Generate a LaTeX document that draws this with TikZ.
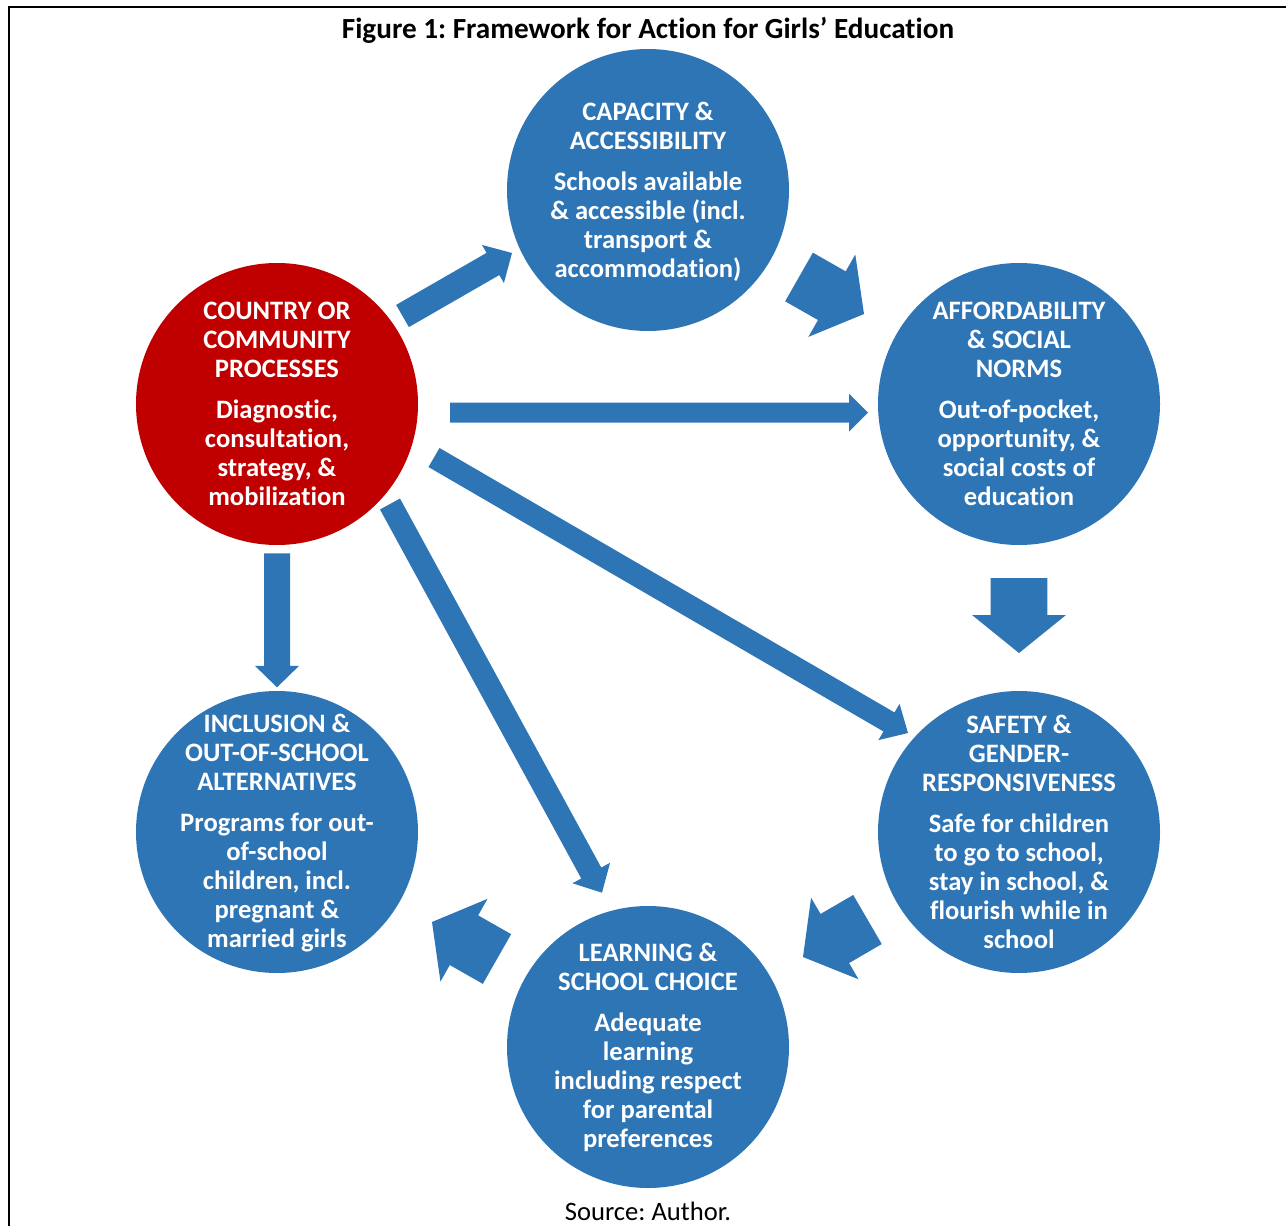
\documentclass[tikz,border=0pt]{standalone}
\usepackage{fontspec}
\setmainfont{Carlito}[Ligatures=NoCommon]
\frenchspacing
\usetikzlibrary{calc}
\definecolor{cblue}{RGB}{46,117,182}
\definecolor{cred}{RGB}{192,0,0}
\tikzset{
  bubble/.style={circle, fill=cblue, draw=none, minimum size=141pt, inner sep=0pt},
  redbubble/.style={bubble, fill=cred},
  btext/.style={text=white, align=center, inner sep=0pt,
    font=\bfseries\fontsize{13.3}{14.5}\selectfont},
  arrowfill/.style={fill=cblue},
}
% #1 start coord, #2 tip coord, #3 half shaft width, #4 half head width, #5 head length
\newcommand\blockarr[5]{%
  \coordinate (#1-base) at ($(#2)!#5!(#1)$);
  \fill[arrowfill] ($(#1)!#3!90:(#2)$) -- ($(#1-base)!#3!90:(#2)$)
    -- ($(#1-base)!#4!90:(#2)$) -- (#2) -- ($(#1-base)!#4!-90:(#2)$)
    -- ($(#1-base)!#3!-90:(#2)$) -- ($(#1)!#3!-90:(#2)$) -- cycle;
}
\begin{document}
\begin{tikzpicture}[x=0.5pt, y=-0.5pt]
\useasboundingbox (0,0) rectangle (1286,1226);
% frame
\draw[line width=1.3pt] (9,1226) -- (9,7) -- (1286,7);
% title
\node[font=\bfseries\fontsize{14.6}{17}\selectfont] (title) at (648,30)
  {Figure 1: Framework for Action for Girls’ Education};
\node[font=\fontsize{13.3}{16}\selectfont] (source) at (648,1211) {Source: Author.};
% circles
\node[redbubble] (red) at (277,404) {};
\node[bubble] (cap) at (648,190) {};
\node[bubble] (aff) at (1019,404) {};
\node[bubble] (safe) at (1019,832) {};
\node[bubble] (learn) at (648,1047) {};
\node[bubble] (incl) at (277,832) {};
% texts
\node[btext] (redt) at (red) {COUNTRY OR\\COMMUNITY\\PROCESSES\\[6pt]Diagnostic,\\consultation,\\strategy, \&\\mobilization};
\node[btext] (capt) at ([yshift=-1pt]cap.center) {CAPACITY \&\\ACCESSIBILITY\\[6pt]Schools available\\\& accessible (incl.\\transport \&\\accommodation)};
\node[btext] (afft) at (aff) {AFFORDABILITY\\\& SOCIAL\\NORMS\\[6pt]Out-of-pocket,\\opportunity, \&\\social costs of\\education};
\node[btext] (safet) at (safe) {SAFETY \&\\GENDER-\\RESPONSIVENESS\\[6pt]Safe for children\\to go to school,\\stay in school, \&\\flourish while in\\school};
\node[btext] (learnt) at (learn) {LEARNING \&\\SCHOOL CHOICE\\[6pt]Adequate\\learning\\including respect\\for parental\\preferences};
\node[btext] (inclt) at ([yshift=-0.5pt]incl.center) {INCLUSION \&\\OUT-OF-SCHOOL\\ALTERNATIVES\\[6pt]Programs for out-\\of-school\\children, incl.\\pregnant \&\\married girls};
% arrow end points
\coordinate (s1) at (402.5,316);   \coordinate (t1) at (512,253);
\coordinate (s2) at (450,412.7);   \coordinate (t2) at (868,412.7);
\coordinate (s3) at (434,457.5);   \coordinate (t3) at (908,733);
\coordinate (s4) at (390,504);     \coordinate (t4) at (602,892.7);
\coordinate (s5) at (277,553.3);   \coordinate (t5) at (277,687.3);
\coordinate (s6) at (799,277);     \coordinate (t6) at (864,314);
\coordinate (s7) at (1019,578);    \coordinate (t7) at (1019,653);
\coordinate (s8) at (867.5,919.5); \coordinate (t8) at (803,957);
\coordinate (s9) at (497,959);     \coordinate (t9) at (432,922);
% thin arrows from the red circle
\blockarr{s1}{t1}{6.4pt}{11pt}{11pt}
\blockarr{s2}{t2}{5pt}{9.5pt}{9.5pt}
\blockarr{s3}{t3}{5.5pt}{10.5pt}{11pt}
\blockarr{s4}{t4}{5.7pt}{10.7pt}{11.2pt}
\blockarr{s5}{t5}{6.5pt}{11pt}{10.7pt}
% big cycle arrows
\blockarr{s6}{t6}{14pt}{23.7pt}{18.5pt}
\blockarr{s7}{t7}{14.2pt}{23.5pt}{19pt}
\blockarr{s8}{t8}{14.2pt}{23.6pt}{18.4pt}
\blockarr{s9}{t9}{14.3pt}{23.8pt}{18.4pt}
\end{tikzpicture}
\end{document}
